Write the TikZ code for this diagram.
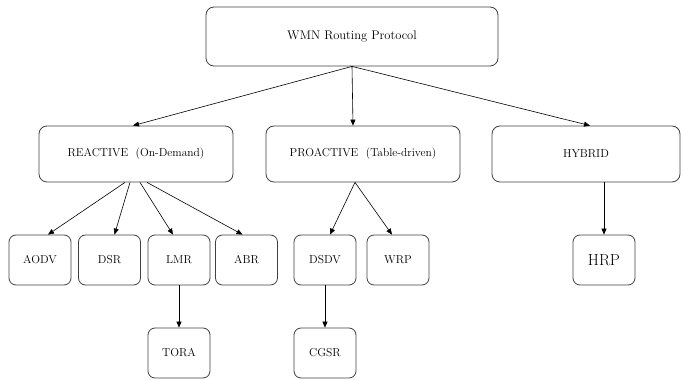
\documentclass[tikz,border=0pt]{standalone}
\usetikzlibrary{arrows.meta}

\tikzset{
    box/.style={draw=black!75, line width=0.8pt, rounded corners=8pt, inner sep=0pt,
        font=\fontsize{11.5}{14}\selectfont},
    bigbox/.style={box, minimum width=194pt, minimum height=56pt},
    smallbox/.style={box, rounded corners=7pt, minimum width=62pt, minimum height=50pt},
    arr/.style={-{Triangle[length=6pt,width=5pt]}, line width=0.6pt}
}

\begin{document}
\begin{tikzpicture}[x=1pt, y=1pt]
    \useasboundingbox (0,0) rectangle (681,380);

    % Radice
    \node[box, minimum width=292pt, minimum height=59pt, font=\fontsize{12.5}{15}\selectfont]
        (wmn) at (352,343.5) {WMN Routing Protocol};

    % Famiglie di protocolli
    \node[bigbox] (reactive) at (136,226) {REACTIVE\ \ (On-Demand)};
    \node[bigbox] (proactive) at (363,226) {PROACTIVE\ \ (Table-driven)};
    \node[bigbox, minimum width=188pt] (hybrid) at (586,226) {HYBRID};

    % Protocolli
    \node[smallbox] (aodv) at (40,120) {AODV};
    \node[smallbox] (dsr) at (109.5,120) {DSR};
    \node[smallbox] (lmr) at (179,120) {LMR};
    \node[smallbox] (abr) at (246.5,120) {ABR};
    \node[smallbox] (dsdv) at (325,120) {DSDV};
    \node[smallbox] (wrp) at (398,120) {WRP};
    \node[smallbox, font=\fontsize{16}{19}\selectfont] (hrp) at (604,120) {HRP};
    \node[smallbox] (tora) at (179,27) {TORA};
    \node[smallbox] (cgsr) at (325,27) {CGSR};

    % Frecce dalla radice
    \draw[arr] (wmn.south) -- ([xshift=-3pt]reactive.north);
    \draw[arr] (wmn.south) -- ([xshift=-10pt]proactive.north);
    \draw[arr] (wmn.south) -- ([xshift=4pt]hybrid.north);

    % Frecce verso i protocolli
    \draw[arr] ([xshift=-11pt]reactive.south) -- ([xshift=8pt]aodv.north);
    \draw[arr] ([xshift=-6pt]reactive.south) -- ([xshift=5pt]dsr.north);
    \draw[arr] ([xshift=4pt]reactive.south) -- ([xshift=-6pt]lmr.north);
    \draw[arr] ([xshift=11pt]reactive.south) -- ([xshift=-4pt]abr.north);
    \draw[arr] ([xshift=-8pt]proactive.south) -- ([xshift=5pt]dsdv.north);
    \draw[arr] ([xshift=-8pt]proactive.south) -- ([xshift=-6pt]wrp.north);
    \draw[arr] (hybrid.south -| hrp.north) -- (hrp.north);
    \draw[arr] (lmr.south) -- (tora.north);
    \draw[arr] (dsdv.south) -- (cgsr.north);
\end{tikzpicture}
\end{document}
